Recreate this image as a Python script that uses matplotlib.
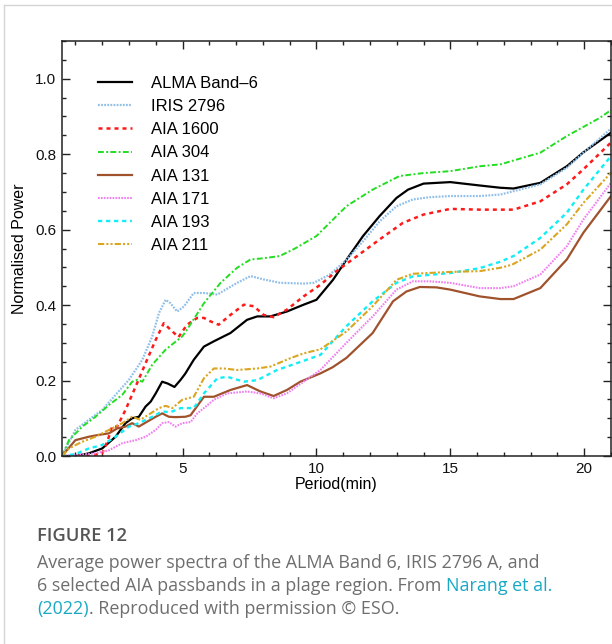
import matplotlib
matplotlib.use("Agg")
import matplotlib.pyplot as plt
from matplotlib.lines import Line2D
from matplotlib.ticker import MultipleLocator

# ---------------- data ----------------
alma_x = [0.5, 1.0, 1.5, 2.0, 2.5, 2.87, 3.12, 3.37, 3.62, 3.81, 4.0, 4.24, 4.45, 4.7, 4.93, 5.1, 5.42,
          5.8, 6.17, 6.79, 7.41, 7.79, 8.28, 8.9, 9.52, 10.0, 10.62, 11.12, 11.74, 12.36, 12.99, 13.42,
          14.0, 15.0, 16.1, 16.87, 17.36, 18.36, 19.35, 19.97, 21.0]
alma_y = [0.0, 0.0, 0.007, 0.02, 0.051, 0.087, 0.1, 0.104, 0.131, 0.144, 0.166, 0.197, 0.192, 0.183, 0.202,
          0.218, 0.255, 0.29, 0.304, 0.326, 0.361, 0.37, 0.37, 0.383, 0.401, 0.414, 0.467, 0.52, 0.583,
          0.636, 0.684, 0.706, 0.722, 0.726, 0.717, 0.711, 0.709, 0.724, 0.768, 0.805, 0.857]

iris_x = [0.5, 1.0, 1.5, 2.0, 2.5, 3.0, 3.5, 3.87, 4.12, 4.37, 4.55, 4.8, 5.05, 5.42, 5.8, 6.3, 7.04, 7.54,
          8.03, 8.65, 9.52, 9.9, 10.15, 10.5, 11.12, 11.74, 12.36, 12.99, 13.6, 14.23, 15.0, 16.1, 16.87,
          18.36, 19.35, 19.97, 21.0]
iris_y = [0.0, 0.069, 0.096, 0.122, 0.162, 0.202, 0.255, 0.317, 0.379, 0.414, 0.405, 0.383, 0.396, 0.432,
          0.432, 0.428, 0.459, 0.477, 0.468, 0.459, 0.457, 0.459, 0.468, 0.481, 0.52, 0.569, 0.622, 0.662,
          0.68, 0.686, 0.689, 0.689, 0.693, 0.72, 0.764, 0.804, 0.868]

a1600_x = [0.5, 1.5, 2.0, 2.2, 2.37, 2.56, 2.87, 3.25, 3.62, 4.0, 4.3, 4.55, 4.85, 5.17, 5.55, 5.8, 6.04,
           6.35, 6.79, 7.29, 7.66, 8.03, 8.4, 8.9, 9.52, 10.15, 10.75, 11.5, 12.36, 13.23, 14.0, 15.0,
           16.1, 17.36, 18.36, 19.35, 19.97, 21.0]
a1600_y = [0.0, 0.0, 0.007, 0.04, 0.078, 0.078, 0.122, 0.184, 0.246, 0.308, 0.352, 0.335, 0.315, 0.348,
           0.366, 0.366, 0.357, 0.348, 0.374, 0.401, 0.397, 0.374, 0.368, 0.388, 0.423, 0.454, 0.49, 0.529,
           0.574, 0.618, 0.64, 0.655, 0.653, 0.653, 0.675, 0.72, 0.76, 0.831]

a304_x = [0.5, 0.76, 1.26, 1.75, 2.25, 2.75, 3.12, 3.31, 3.5, 3.87, 4.37, 4.99, 5.17, 5.8, 6.42, 7.04,
          7.54, 8.0, 8.63, 9.2, 10.0, 11.12, 12.1, 13.1, 14.0, 15.0, 16.1, 16.87, 17.3, 18.36, 19.35,
          20.6, 21.0]
a304_y = [0.0, 0.042, 0.078, 0.104, 0.135, 0.162, 0.197, 0.202, 0.197, 0.242, 0.282, 0.317, 0.335, 0.405,
          0.459, 0.499, 0.521, 0.524, 0.53, 0.55, 0.583, 0.662, 0.706, 0.742, 0.75, 0.755, 0.768, 0.773,
          0.782, 0.804, 0.848, 0.897, 0.917]

a131_x = [0.5, 1.0, 1.5, 1.87, 2.25, 2.56, 2.87, 3.12, 3.37, 3.68, 4.0, 4.24, 4.49, 4.74, 5.11, 5.3, 5.8,
          6.17, 6.79, 7.41, 7.91, 8.4, 8.9, 9.4, 10.15, 10.6, 11.12, 12.1, 12.86, 13.36, 13.86, 14.48,
          15.0, 16.1, 16.87, 17.36, 18.36, 19.35, 19.97, 21.0]
a131_y = [0.0, 0.042, 0.051, 0.056, 0.06, 0.073, 0.078, 0.087, 0.078, 0.091, 0.104, 0.113, 0.104, 0.103,
          0.104, 0.108, 0.157, 0.157, 0.175, 0.188, 0.171, 0.159, 0.175, 0.197, 0.219, 0.235, 0.26, 0.326,
          0.41, 0.436, 0.448, 0.447, 0.441, 0.423, 0.416, 0.416, 0.445, 0.521, 0.592, 0.689]

a171_x = [0.5, 1.75, 2.25, 2.75, 3.25, 3.62, 4.0, 4.24, 4.49, 4.74, 4.99, 5.3, 5.55, 5.8, 6.17, 6.67,
          7.41, 7.91, 8.4, 8.9, 9.52, 10.15, 11.12, 12.1, 12.99, 13.6, 14.23, 15.0, 16.1, 16.87, 17.36,
          18.36, 19.35, 19.97, 21.0]
a171_y = [0.0, 0.007, 0.015, 0.034, 0.042, 0.051, 0.069, 0.087, 0.09, 0.078, 0.087, 0.09, 0.113, 0.127,
          0.149, 0.166, 0.171, 0.166, 0.153, 0.166, 0.197, 0.228, 0.3, 0.37, 0.441, 0.463, 0.463, 0.459,
          0.445, 0.445, 0.45, 0.481, 0.556, 0.627, 0.724]

a193_x = [0.5, 1.0, 1.5, 2.0, 2.5, 3.0, 3.37, 3.87, 4.24, 4.55, 4.93, 5.42, 5.8, 6.3, 6.67, 7.29, 7.79,
          8.53, 9.27, 10.15, 11.12, 12.1, 12.99, 13.6, 15.0, 16.1, 16.87, 17.36, 18.36, 19.35, 19.97, 21.0]
a193_y = [0.0, 0.005, 0.02, 0.029, 0.051, 0.078, 0.087, 0.104, 0.118, 0.116, 0.127, 0.127, 0.166, 0.206,
          0.21, 0.197, 0.201, 0.228, 0.246, 0.268, 0.344, 0.41, 0.459, 0.476, 0.485, 0.498, 0.515, 0.53,
          0.578, 0.645, 0.706, 0.795]

a211_x = [0.5, 0.76, 1.26, 1.75, 2.25, 2.75, 3.12, 3.43, 3.81, 4.12, 4.37, 4.62, 4.99, 5.42, 5.8, 6.17,
          6.54, 7.04, 7.79, 8.28, 9.02, 9.52, 10.15, 11.12, 12.1, 12.99, 13.6, 15.0, 16.1, 16.87, 17.3,
          18.36, 19.35, 19.97, 21.0]
a211_y = [0.0, 0.02, 0.038, 0.051, 0.069, 0.087, 0.104, 0.096, 0.113, 0.127, 0.133, 0.127, 0.149, 0.157,
          0.206, 0.232, 0.232, 0.228, 0.232, 0.237, 0.259, 0.272, 0.283, 0.33, 0.397, 0.467, 0.483, 0.488,
          0.49, 0.499, 0.507, 0.547, 0.614, 0.671, 0.751]

labels = ["ALMA Band\u20136", "IRIS 2796", "AIA 1600", "AIA 304", "AIA 131", "AIA 171", "AIA 193", "AIA 211"]
xticks = [5, 10, 15, 20]
yticks = [0.0, 0.2, 0.4, 0.6, 0.8, 1.0]

# ---------------- figure ----------------
W, H = 612, 644
fig = plt.figure(figsize=(W / 100, H / 100), dpi=100)
plt.rcParams['font.family'] = ['Liberation Sans', 'DejaVu Sans']

# thin light-grey panel border (top and left)
fig.add_artist(Line2D([4 / W, 4 / W], [0, 1 - 5 / H], color='#d4d4d4', lw=1.0, transform=fig.transFigure))
fig.add_artist(Line2D([4 / W, 1], [1 - 5 / H, 1 - 5 / H], color='#d4d4d4', lw=1.0, transform=fig.transFigure))

ax = fig.add_axes([62 / W, 1 - 456 / H, (611 - 62) / W, (456 - 41) / H])

series = [
    (alma_x, alma_y, dict(color='black', lw=1.6, ls='-')),
    (iris_x, iris_y, dict(color='#8fbfe9', lw=1.6, ls=(0, (0.8, 0.6)))),
    (a1600_x, a1600_y, dict(color='#ff1a1a', lw=1.8, ls=(0, (1.6, 1.6)))),
    (a304_x, a304_y, dict(color='#22dd22', lw=1.4, ls=(0, (3, 1.2, 1, 1.2)))),
    (a131_x, a131_y, dict(color='#a0522d', lw=1.6, ls='-')),
    (a171_x, a171_y, dict(color='#f07ff0', lw=1.5, ls=(0, (0.8, 0.6)))),
    (a193_x, a193_y, dict(color='#11eef5', lw=1.7, ls=(0, (1.8, 1.6)))),
    (a211_x, a211_y, dict(color='#daa520', lw=1.5, ls=(0, (3, 1, 1, 1, 1, 1)))),
]
for (x, y, st), lab in zip(series, labels):
    ax.plot(x, y, label=lab, **st)

ax.set_xlim(0.5, 21)
ax.set_ylim(0, 1.1)
ax.set_xticks(xticks)
ax.set_yticks(yticks)
ax.set_yticklabels([f"{v:.1f}" for v in yticks])
ax.xaxis.set_minor_locator(MultipleLocator(1))
ax.yaxis.set_minor_locator(MultipleLocator(0.05))
ax.tick_params(which='both', direction='in', top=True, right=True, width=1.0, colors='#222222',
               labelsize=11, labelcolor='#111111')
ax.tick_params(which='major', length=5.5, pad=4)
ax.tick_params(which='minor', length=3.2)
for sp in ax.spines.values():
    sp.set_linewidth(1.1)
    sp.set_color('#222222')

ax.set_xlabel("Period(min)", fontsize=11.5, labelpad=1)
ax.set_ylabel("Normalised Power", fontsize=11.5, labelpad=6)

leg = ax.legend(loc='upper left', bbox_to_anchor=(0.066, 0.916), frameon=False, fontsize=12,
                handlelength=2.05, handletextpad=1.1, labelspacing=0.49, borderpad=0, borderaxespad=0)

# ---------------- caption ----------------
cap_font = ['Open Sans', 'DejaVu Sans']
grey = '#6e6e6e'
teal = '#1aa9c4'
x0 = 37 / W
fig.text(x0, 1 - 536 / H, "FIGURE 12", fontsize=13.2, fontweight='semibold', color='#555555',
         family=cap_font, va='center', ha='left')
fs = 12.9
fig.text(x0, 1 - 563 / H, "Average power spectra of the ALMA Band 6, IRIS 2796 A, and", fontsize=fs,
         color=grey, family=cap_font, va='center', ha='left')

fig.canvas.draw()
r = fig.canvas.get_renderer()
t1 = fig.text(x0, 1 - 586 / H, "6 selected AIA passbands in a plage region. From ", fontsize=fs,
              color=grey, family=cap_font, va='center', ha='left')
bb = t1.get_window_extent(renderer=r)
fig.text(bb.x1 / W, 1 - 586 / H, "Narang et al.", fontsize=fs, color=teal, family=cap_font,
         va='center', ha='left')
t3 = fig.text(x0, 1 - 609 / H, "(2022)", fontsize=fs, color=teal, family=cap_font, va='center', ha='left')
bb3 = t3.get_window_extent(renderer=r)
fig.text(bb3.x1 / W, 1 - 609 / H, ". Reproduced with permission \u00a9 ESO.", fontsize=fs, color=grey,
         family=cap_font, va='center', ha='left')

fig.savefig("out.png", dpi=100)
